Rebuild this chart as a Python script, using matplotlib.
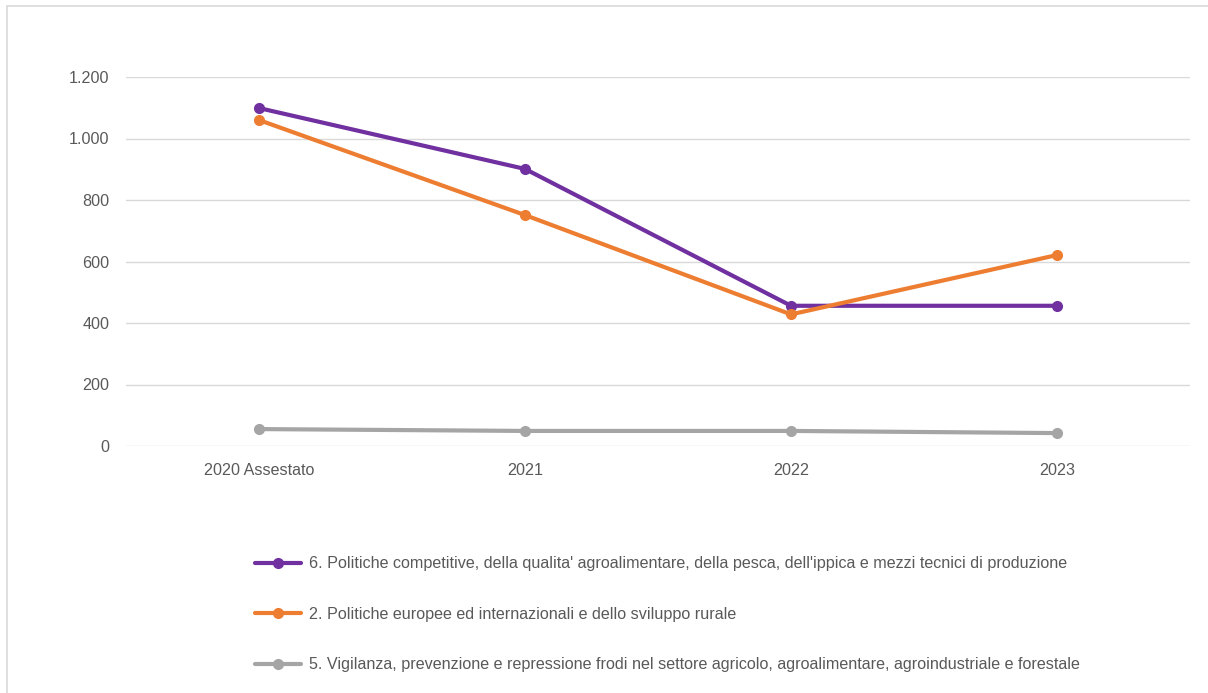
import matplotlib.pyplot as plt
from matplotlib.patches import Rectangle

plt.rcParams['font.family'] = ['Liberation Sans Narrow', 'Liberation Sans', 'DejaVu Sans']

anni = ['2020 Assestato', '2021', '2022', '2023']

politiche_competitive = [1099, 901, 456, 456]
politiche_europee = [1060, 751, 428, 621]
vigilanza = [55, 49, 49, 42]

labels = [
    "6. Politiche competitive, della qualita' agroalimentare, della pesca, dell'ippica e mezzi tecnici di produzione",
    "2. Politiche europee ed internazionali e dello sviluppo rurale",
    "5. Vigilanza, prevenzione e repressione frodi nel settore agricolo, agroalimentare, agroindustriale e forestale",
]
colori = ['#7030A0', '#ED7D31', '#A5A5A5']

W, H = 1208, 693
fig = plt.figure(figsize=(W / 100, H / 100), dpi=100)

# chart border (cut off on the right and bottom)
fig.patches.append(Rectangle((7 / W, -0.1), 1.2, 1 - 6 / H + 0.1, transform=fig.transFigure,
                             fill=False, edgecolor='#D9D9D9', linewidth=1.2))

ax = fig.add_axes([126 / W, 1 - 446 / H, (1190 - 126) / W, (446 - 77) / H])

x = range(len(anni))
linee = []
for serie, col in zip([politiche_competitive, politiche_europee, vigilanza], colori):
    l, = ax.plot(x, serie, color=col, linewidth=3, marker='o', markersize=7,
                 solid_capstyle='round')
    linee.append(l)

ax.set_xlim(-0.5, len(anni) - 0.5)
ax.set_ylim(0, 1200)
ax.set_yticks(range(0, 1201, 200))
ax.set_yticklabels(['0', '200', '400', '600', '800', '1.000', '1.200'])
ax.set_xticks(list(x))
ax.set_xticklabels(anni)
ax.grid(axis='y', color='#D9D9D9', linewidth=1)
ax.set_axisbelow(True)
for s in ax.spines.values():
    s.set_visible(False)
ax.tick_params(length=0, labelsize=11.6, colors='#595959', pad=12)
ax.tick_params(axis='x', pad=12)

fig.legend(linee, labels, loc='upper left', bbox_to_anchor=(249 / W, 1 - 550 / H),
           borderaxespad=0, frameon=False, fontsize=11.6, labelcolor='#595959',
           handlelength=2.8, labelspacing=2.2, handletextpad=0.5)

plt.savefig('out.png', dpi=100)
plt.close()
